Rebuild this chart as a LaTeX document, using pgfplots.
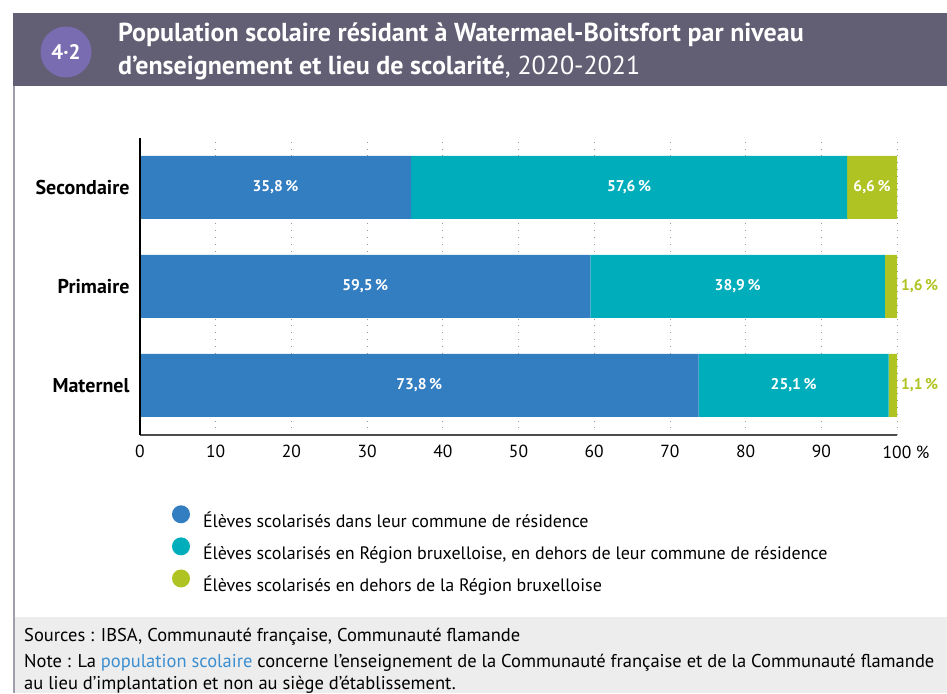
\documentclass[border=0pt]{standalone}
\usepackage{fontspec}
\setmainfont{PT Sans}
\usepackage{pgfplots}
\pgfplotsset{compat=1.18}
\definecolor{cA}{HTML}{337DC1}
\definecolor{cB}{HTML}{00ADBB}
\definecolor{cC}{HTML}{AFC423}
\definecolor{band}{HTML}{625E73}
\definecolor{badge}{HTML}{7A6CB0}
\definecolor{frame}{HTML}{A09EAE}
\definecolor{foot}{HTML}{EDEDED}
\definecolor{linkc}{HTML}{3B8ED0}
\begin{document}
\begin{tikzpicture}[x=1pt,y=1pt]
\path[use as bounding box] (0,0) rectangle (947,693);
\begin{scope}
\clip (0,0) rectangle (947,693);
\fill[foot] (14,0) rectangle (947,76);
\fill[band] (13,607) rectangle (947,680);
\draw[frame, line width=2pt] (14,0) -- (14,607);
\fill[badge] (66,641) circle (25.5);
\node[white, font=\fontsize{21}{24}\selectfont\bfseries] at (66,641) {4·2};
\node[anchor=base west, inner sep=0, white, font=\fontsize{26}{30}\selectfont\bfseries] at (118,651) {Population scolaire résidant à Watermael-Boitsfort par niveau};
\node[anchor=base west, inner sep=0, white, font=\fontsize{26}{30}\selectfont\bfseries] at (118,618) {d’enseignement et lieu de scolarité{\mdseries, 2020-2021}};
\node[anchor=base west, inner sep=0, font=\fontsize{18.5}{22}\selectfont] at (24,52) {Sources : IBSA, Communauté française, Communauté flamande};
\node[anchor=base west, inner sep=0, font=\fontsize{18.5}{22}\selectfont] at (24,26) {Note : La \textcolor{linkc}{population scolaire} concerne l’enseignement de la Communauté française et de la Communauté flamande};
\node[anchor=base west, inner sep=0, font=\fontsize{18.5}{22}\selectfont] at (24,4) {au lieu d’implantation et non au siège d’établissement.};
\end{scope}
\begin{axis}[
  at={(140pt,258pt)}, anchor=south west,
  scale only axis, width=757pt, height=297pt,
  xbar stacked, bar width=63pt,
  xmin=0, xmax=100, ymin=-0.5, ymax=2.5,
  ytick={0,1,2}, yticklabels={Maternel,Primaire,Secondaire},
  xtick={0,10,20,30,40,50,60,70,80,90,100},
  xticklabels={0,10,20,30,40,50,60,70,80,90,100\rlap{ \%}},
  axis line style={draw=none},
  major tick length=0pt,
  xmajorgrids,
  grid style={gray!80, dash pattern=on 0.8pt off 6pt, line width=0.8pt},
  xticklabel style={font=\fontsize{17.5}{20}\selectfont, yshift=-7pt},
  yticklabel style={font=\fontsize{20}{24}\selectfont\bfseries, xshift=-7pt},
  clip=false,
  legend style={at={(rel axis cs:0.042,-0.236)}, anchor=north west, draw=none, fill=none,
    font=\fontsize{18}{22}\selectfont, row sep=6.5pt, column sep=11pt, inner sep=0pt},
  legend cell align=left,
  after end axis/.code={
    \draw[gray!60!black, line width=1.6pt] (rel axis cs:0,0) -- (rel axis cs:1,0);
    \draw[black, line width=1.4pt] (rel axis cs:0,0) -- (rel axis cs:0,1);
    \begin{scope}[every node/.style={font=\fontsize{15.5}{18}\selectfont\bfseries}]
    \node[white] at (axis cs:17.9,2) {35,8\,\%};
    \node[white] at (axis cs:64.6,2) {57,6\,\%};
    \node[white] at (axis cs:96.7,2) {6,6\,\%};
    \node[white] at (axis cs:29.75,1) {59,5\,\%};
    \node[white] at (axis cs:78.95,1) {38,9\,\%};
    \node[cC] at (axis cs:103,1) {1,6\,\%};
    \node[white] at (axis cs:36.9,0) {73,8\,\%};
    \node[white] at (axis cs:86.35,0) {25,1\,\%};
    \node[cC] at (axis cs:103,0) {1,1\,\%};
    \end{scope}
  },
]
\addplot[fill=cA, draw=none, legend image code/.code={\fill[cA] (0pt,6pt) circle (9pt);}] coordinates {(73.8,0) (59.5,1) (35.8,2)};
\addlegendentry{Élèves scolarisés dans leur commune de résidence}
\addplot[fill=cB, draw=none, legend image code/.code={\fill[cB] (0pt,6pt) circle (9pt);}] coordinates {(25.1,0) (38.9,1) (57.6,2)};
\addlegendentry{Élèves scolarisés en Région bruxelloise, en dehors de leur commune de résidence}
\addplot[fill=cC, draw=none, legend image code/.code={\fill[cC] (0pt,6pt) circle (9pt);}] coordinates {(1.1,0) (1.6,1) (6.6,2)};
\addlegendentry{Élèves scolarisés en dehors de la Région bruxelloise}
\end{axis}
\end{tikzpicture}
\end{document}
